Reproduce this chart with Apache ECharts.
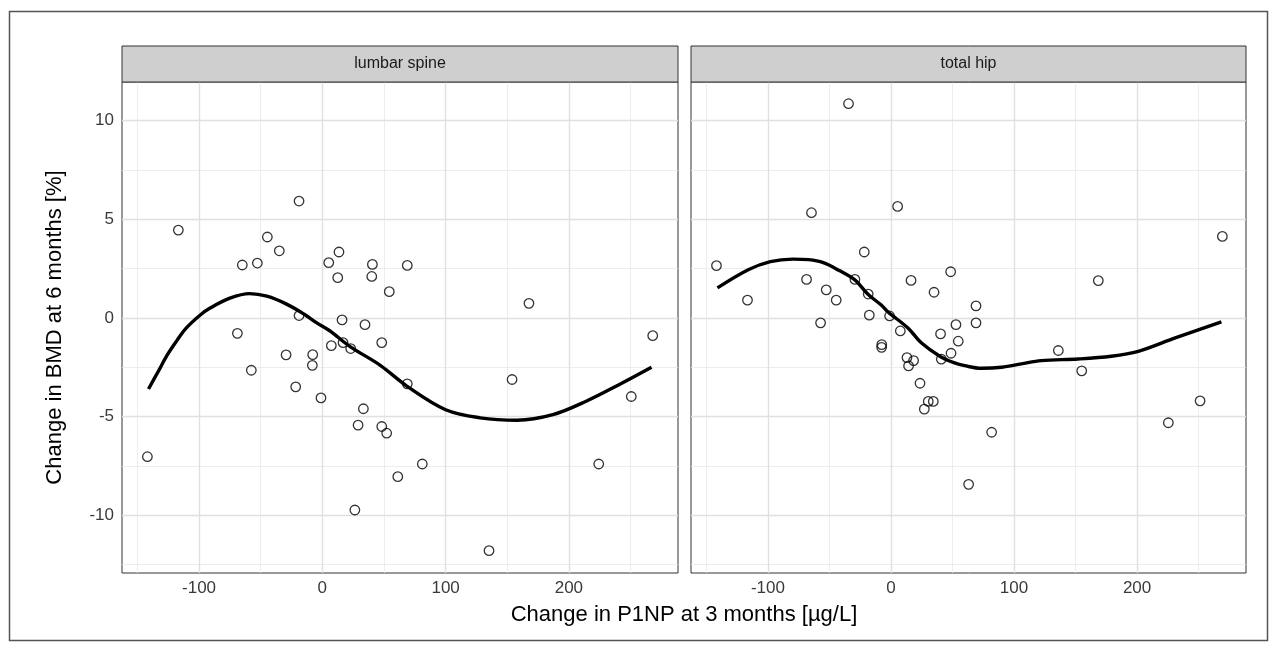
<!DOCTYPE html>
<html><head><meta charset="utf-8">
<script src="https://cdn.jsdelivr.net/npm/echarts@6/dist/echarts.min.js"></script>
<style>html,body{margin:0;padding:0;background:#fff}#c{width:1279px;height:653px}</style>
</head><body><div id="c"></div>
<script>
// ---- data ----
const panelTitles = ['lumbar spine', 'total hip'];
const xTitle = 'Change in P1NP at 3 months [µg/L]';
const yTitle = 'Change in BMD at 6 months [%]';

const xMajor = [-100, 0, 100, 200];
const xMinor = [-150, -50, 50, 150, 250];
const yMajor = [-10, -5, 0, 5, 10];
const yMinor = [-12.5, -7.5, -2.5, 2.5, 7.5];

const spineX = [-141.9,-116.8,-68.9,-64.9,-57.6,-52.7,-44.6,-34.9,-29.4,-21.6,-18.9,-18.9,-7.8,-8.1,-1.1,5.2,7.3,12.5,13.5,16.0,16.8,23.0,26.4,29.0,33.3,34.6,40.1,40.6,48.2,48.2,52.2,54.3,61.2,68.9,68.9,81.1,135.2,153.9,167.6,224.2,250.6,268.0];
const spineY = [-7.03,4.45,-0.78,2.68,-2.65,2.78,4.10,3.40,-1.87,-3.49,5.92,0.12,-1.86,-2.40,-4.05,2.80,-1.40,2.04,3.34,-0.10,-1.25,-1.55,-9.73,-5.43,-4.60,-0.34,2.10,2.71,-1.25,-5.50,-5.84,1.33,-8.04,2.66,-3.34,-7.40,-11.79,-3.12,0.74,-7.40,-3.98,-0.90];

const hipX = [-141.8,-116.6,-68.6,-64.6,-57.2,-52.6,-44.5,-34.5,-29.3,-21.7,-18.5,-17.6,-7.5,-7.6,-1.1,5.4,7.6,13.0,14.3,16.3,18.4,23.6,27.1,30.3,34.4,35.0,40.3,40.9,48.5,48.8,52.8,54.7,63.1,69.1,69.1,81.8,136.0,155.0,168.5,225.4,251.2,269.3];
const hipY = [2.65,0.90,1.95,5.33,-0.25,1.42,0.90,10.85,1.95,3.34,1.21,0.14,-1.35,-1.49,0.10,5.65,-0.66,-2.01,-2.43,1.90,-2.16,-3.31,-4.62,-4.23,-4.23,1.30,-0.81,-2.09,2.34,-1.79,-0.34,-1.18,-8.43,0.61,-0.25,-5.79,-1.65,-2.68,1.89,-5.31,-4.20,4.13];

const spineFitX = [-141,-133,-126,-118,-111,-99,-91,-75,-59,-45,-29,-15,-4.5,6,22.5,47,68.5,100,128,158,187,214,241,267];
const spineFitY = [-3.6,-2.7,-1.9,-1.15,-0.55,0.15,0.5,1.0,1.23,1.1,0.7,0.2,-0.25,-0.65,-1.45,-2.4,-3.45,-4.65,-5.06,-5.18,-4.9,-4.22,-3.37,-2.5];

const hipFitX = [-141,-116,-98,-80,-67,-55,-42,-29.6,-18.7,-7.9,-2.4,13.8,24.6,40,51.7,60,73.4,90,105.9,122,152,179,201,231,268.5];
const hipFitY = [1.52,2.44,2.85,2.98,2.95,2.8,2.4,1.94,1.2,0.65,0.3,-0.51,-1.26,-1.95,-2.28,-2.42,-2.55,-2.5,-2.33,-2.16,-2.08,-1.94,-1.69,-1.01,-0.2];

// ---- build ----
const FONT = 'Liberation Sans, Arial, sans-serif';
const zip = (a, b) => a.map((v, i) => [v, b[i]]);
const panelPts = [zip(spineX, spineY), zip(hipX, hipY)];
const panelFit = [zip(spineFitX, spineFitY), zip(hipFitX, hipFitY)];

const grids = [
  { left: 122, top: 82, width: 556, height: 491 },
  { left: 691, top: 82, width: 555, height: 491 }
];

const chart = echarts.init(document.getElementById('c'), null, { renderer: 'canvas' });

const gridOpt = grids.map(g => Object.assign({}, g, {
  show: true, borderColor: '#333333', borderWidth: 1, backgroundColor: '#ffffff', containLabel: false
}));

const xAxes = grids.map((g, i) => ({
  type: 'value', gridIndex: i, min: -162.5, max: 288.5,
  axisLine: { show: false },
  splitLine: { show: false },
  axisTick: { show: true, length: 4, customValues: xMajor, lineStyle: { color: '#333333', width: 1 } },
  axisLabel: { customValues: xMajor, color: '#3a3a3a', fontSize: 17, fontFamily: FONT, margin: 7 }
}));

const yAxes = grids.map((g, i) => ({
  type: 'value', gridIndex: i, min: -12.92, max: 11.95,
  axisLine: { show: false },
  splitLine: { show: false },
  axisTick: { show: i === 0, length: 4, customValues: yMajor, lineStyle: { color: '#333333', width: 1 } },
  axisLabel: { show: i === 0, customValues: yMajor, color: '#3a3a3a', fontSize: 17, fontFamily: FONT, margin: 8 },
  name: i === 0 ? yTitle : '',
  nameLocation: 'middle', nameRotate: 90, nameGap: 56,
  nameTextStyle: { color: '#000000', fontSize: 22, fontFamily: FONT }
}));

const series = [];
grids.forEach((g, i) => {
  const lines = [];
  xMinor.forEach(v => lines.push({ xAxis: v, lineStyle: { width: 0.8, color: '#e8e8e8', type: 'solid' } }));
  yMinor.forEach(v => lines.push({ yAxis: v, lineStyle: { width: 0.8, color: '#e8e8e8', type: 'solid' } }));
  xMajor.forEach(v => lines.push({ xAxis: v, lineStyle: { width: 1.4, color: '#e0e0e0', type: 'solid' } }));
  yMajor.forEach(v => lines.push({ yAxis: v, lineStyle: { width: 1.4, color: '#e0e0e0', type: 'solid' } }));
  series.push({
    type: 'line', xAxisIndex: i, yAxisIndex: i, data: [], silent: true, z: 1,
    markLine: { silent: true, symbol: ['none', 'none'], label: { show: false }, z: 1, animation: false, data: lines }
  });
  series.push({
    type: 'scatter', xAxisIndex: i, yAxisIndex: i, data: panelPts[i], z: 3,
    symbol: 'circle', symbolSize: 9.5,
    itemStyle: { color: 'rgba(0,0,0,0)', borderColor: '#000000', borderWidth: 1.3 }
  });
  series.push({
    type: 'line', xAxisIndex: i, yAxisIndex: i, data: panelFit[i], z: 4,
    smooth: 0.35, showSymbol: false, symbol: 'none',
    lineStyle: { color: '#000000', width: 3.4 }
  });
});

const graphic = [
  { type: 'rect', shape: { x: 9.5, y: 11.5, width: 1258, height: 629 }, style: { fill: 'none', stroke: '#555555', lineWidth: 1.5 }, z: -10 }
];
grids.forEach((g, i) => {
  graphic.push({ type: 'rect', shape: { x: g.left, y: 46, width: g.width, height: 36 }, style: { fill: '#cfcfcf', stroke: '#333333', lineWidth: 1 }, z: 10 });
  graphic.push({ type: 'text', x: g.left + g.width / 2, y: 64, style: { text: panelTitles[i], fill: '#1a1a1a', font: '16px ' + FONT, textAlign: 'center', textVerticalAlign: 'middle' }, z: 11 });
});
graphic.push({ type: 'text', x: 684, y: 615, style: { text: xTitle, fill: '#000000', font: '22px ' + FONT, textAlign: 'center', textVerticalAlign: 'middle' }, z: 11 });

chart.setOption({
  animation: false,
  backgroundColor: '#ffffff',
  grid: gridOpt,
  xAxis: xAxes,
  yAxis: yAxes,
  series: series,
  graphic: graphic
});
</script></body></html>
